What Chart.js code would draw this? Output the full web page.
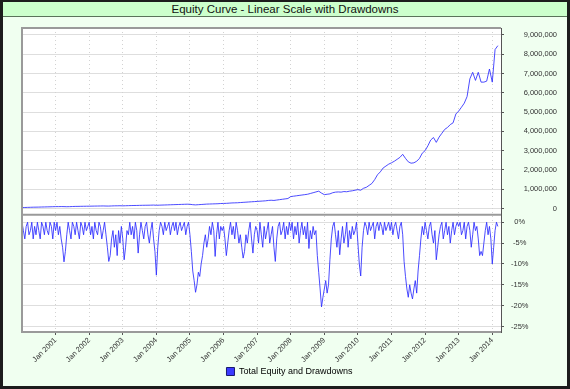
<!DOCTYPE html>
<html lang="en">
<head>
<meta charset="UTF-8">
<title>Equity Curve - Linear Scale with Drawdowns</title>
<script src="https://cdn.jsdelivr.net/npm/chart.js"></script>
<style>
  body { margin: 0; background: #f0fff0; }
  .frame {
    position: absolute; left: 0; top: 0; width: 570px; height: 389px;
    box-sizing: border-box; border: 3px solid #1c1c1c; border-top-width: 2px;
    background: #f0fff0;
  }
  .title {
    position: absolute; left: 3px; top: 2px; width: 564px; height: 14px;
    background: #ccffcc; border-bottom: 1px solid #5a735a;
    text-align: center; line-height: 14px; font-size: 11.5px; color: #111;
    font-family: "Liberation Sans", Arial, sans-serif;
  }
  #chart { position: absolute; left: 0; top: 0; }
</style>
</head>
<body>
<div class="frame"></div>
<div class="title">Equity Curve - Linear Scale with Drawdowns</div>
<canvas id="chart" width="570" height="389"></canvas>

<script>
// monthly equity, in millions, starting Jan 2000
const startYear = 2000;
const equity2000 = [0.05, 0.055, 0.06, 0.065, 0.07, 0.072, 0.075, 0.08, 0.083, 0.087, 0.09, 0.095];
const equity2001 = [0.10, 0.10, 0.102, 0.10, 0.095, 0.098, 0.105, 0.11, 0.112, 0.115, 0.118, 0.12];
const equity2002 = [0.122, 0.125, 0.127, 0.13, 0.132, 0.135, 0.13, 0.128, 0.135, 0.14, 0.142, 0.145];
const equity2003 = [0.14, 0.145, 0.15, 0.155, 0.158, 0.16, 0.165, 0.168, 0.17, 0.172, 0.175, 0.18];
const equity2004 = [0.17, 0.175, 0.18, 0.185, 0.19, 0.195, 0.2, 0.205, 0.21, 0.215, 0.22, 0.225];
const equity2005 = [0.22, 0.2, 0.19, 0.2, 0.21, 0.22, 0.23, 0.235, 0.24, 0.245, 0.25, 0.26];
const equity2006 = [0.265, 0.27, 0.28, 0.29, 0.295, 0.3, 0.31, 0.32, 0.33, 0.34, 0.35, 0.36];
const equity2007 = [0.37, 0.38, 0.39, 0.4, 0.42, 0.43, 0.42, 0.44, 0.46, 0.48, 0.5, 0.52];
const equity2008 = [0.62, 0.64, 0.66, 0.68, 0.7, 0.72, 0.74, 0.78, 0.82, 0.86, 0.9, 0.8];
const equity2009 = [0.72, 0.74, 0.76, 0.82, 0.85, 0.86, 0.85, 0.88, 0.87, 0.9, 0.92, 0.95];
const equity2010 = [0.98, 0.95, 1.05, 1.1, 1.2, 1.3, 1.5, 1.75, 1.9, 2.1, 2.2, 2.3];
const equity2011 = [2.37, 2.45, 2.55, 2.65, 2.81, 2.6, 2.42, 2.35, 2.37, 2.45, 2.6, 2.87];
const equity2012 = [3.0, 3.25, 3.55, 3.68, 3.43, 3.7, 3.9, 4.1, 4.2, 4.35, 4.44, 4.9];
const equity2013 = [5.05, 5.25, 5.46, 5.8, 6.72, 7.06, 6.64, 7.06, 6.55, 6.55, 6.6, 7.23];
const equity2014 = [6.55, 8.24, 8.44];

// drawdown in percent, twice a month, starting Jan 2000
const dd2000 = [0, -2, -4, -1, 0, -3, -2, 0, -4, -1, -3, 0, -2, -4, 0, -1, -3, 0, -2, -3, 0, -1, -4, 0];
const dd2001 = [-2, 0, -3, -1, -4, -6, -9.5, -7, -3, 0, -2, -4, 0, -1, -3, 0, -2, -4, 0, -1, -3, 0, -2, -1];
const dd2002 = [0, -3, -1, -4, 0, -2, -3, 0, -1, -4, -2, 0, -3, -6, -9.4, -8, -4, -2, -6, -3, -8, -2, -5, -1];
const dd2003 = [-4, -9, -6, -2, -3, 0, -3, -1, -4, 0, -2, -7.4, -3, 0, -2, -4, -1, 0, -3, -5, -2, 0, -4, -7];
const dd2004 = [-12.7, -6, -2, 0, -1, -3, 0, -2, -1, 0, -3, -1, 0, -2, 0, -3, -1, 0, -2, -1, 0, -3, -1, 0];
const dd2005 = [-3, -7, -11.7, -14, -16.8, -15, -12, -13, -10, -8, -5, -3, -6, -4, -1, -3, 0, -2, -8.2, -3, 0, -4, -1, -2];
const dd2006 = [-1, -4, -8, -5, -2, 0, -3, -1, -4, 0, -2, -5, -3, -6, -8.6, -7, -3, -5, -2, 0, -4, -7.4, -3, -1];
const dd2007 = [-2, -5, 0, -3, -6, -1, -4, -2, 0, -5, -3, -1, -6, -9.4, -4, -1, 0, -3, -2, 0, -4, -1, -3, 0];
const dd2008 = [-2, 0, -4, -1, -3, 0, -5, -2, 0, -3, -1, -4, 0, -6.3, -2, -4, -1, -3, -2, -8, -12, -16, -20.3, -18];
const dd2009 = [-16, -14, -17, -15, -9, -4, -1, 0, -3, -6, -2, -7.8, -4, -1, -5, -3, 0, -6, -2, -4, -1, -3, -2, 0];
const dd2010 = [-5, -10, -12.9, -6, -2, 0, -1, -3, 0, -2, -1, 0, -4, -1, 0, -2, 0, -1, -3, 0, -2, -1, 0, -2];
const dd2011 = [0, -3, -1, 0, -2, -4, -1, 0, -3, -9.4, -13, -16, -18, -15, -17, -18.4, -16, -14, -17, -11.7, -8, -4, -1, -3];
const dd2012 = [0, -2, -4, -1, 0, -3, -5, -2, -9, -6, -3, -1, 0, -4, -2, 0, -3, -1, -5, -2, 0, -3, -1, 0];
const dd2013 = [-1, 0, -3, -2, 0, -4, -1, 0, -2, -6, -3, 0, -2, -1, -4, -8, -7, -8, -5, -2, 0, -3, -1, -4];
const dd2014 = [-10, -6, -2, 0, -1];

const tickYears = [2001, 2002, 2003, 2004, 2005, 2006, 2007, 2008, 2009, 2010, 2011, 2012, 2013, 2014];
const tickLabels = tickYears.map(y => 'Jan ' + y);
const equityTicks = [0, 1000000, 2000000, 3000000, 4000000, 5000000, 6000000, 7000000, 8000000, 9000000];
const ddTicks = [0, -5, -10, -15, -20, -25];
const seriesName = 'Total Equity and Drawdowns';

const equity = [].concat(equity2000, equity2001, equity2002, equity2003, equity2004, equity2005,
  equity2006, equity2007, equity2008, equity2009, equity2010, equity2011, equity2012, equity2013, equity2014);
const drawdown = [].concat(dd2000, dd2001, dd2002, dd2003, dd2004, dd2005, dd2006, dd2007,
  dd2008, dd2009, dd2010, dd2011, dd2012, dd2013, dd2014);

const equityPoints = equity.map((v, i) => ({ x: startYear + i / 12, y: v * 1e6 }));
const ddPoints = drawdown.map((v, i) => ({ x: startYear + i / 24, y: v }));

Chart.defaults.font.family = '"Liberation Sans", Arial, sans-serif';
Chart.defaults.color = '#333';

// white plot area plus the grey frame and the divider between the two panels
const plotFrame = {
  id: 'plotFrame',
  beforeDraw(chart) {
    const { ctx, chartArea: a } = chart;
    ctx.save();
    ctx.fillStyle = '#ffffff';
    ctx.fillRect(a.left, a.top, a.right - a.left, a.bottom - a.top);
    ctx.restore();
  },
  afterDraw(chart) {
    const { ctx, chartArea: a } = chart;
    const split = chart.scales.yEq.bottom;
    ctx.save();
    ctx.strokeStyle = '#9a9a9a';
    ctx.lineWidth = 2;
    ctx.beginPath();
    ctx.moveTo(a.right, a.top); ctx.lineTo(a.left, a.top);
    ctx.lineTo(a.left, a.bottom); ctx.lineTo(a.right, a.bottom);
    ctx.moveTo(a.left, split); ctx.lineTo(a.right, split);
    ctx.stroke();
    ctx.restore();
  }
};

const lineColor = 'rgba(45, 45, 255, 0.85)';

new Chart(document.getElementById('chart'), {
  type: 'line',
  data: {
    datasets: [{
      label: seriesName,
      data: equityPoints,
      xAxisID: 'x',
      yAxisID: 'yEq',
      borderColor: lineColor,
      backgroundColor: '#3a3aff',
      borderWidth: 1,
      pointRadius: 0,
      tension: 0
    }, {
      label: seriesName,
      data: ddPoints,
      xAxisID: 'x',
      yAxisID: 'yDd',
      borderColor: lineColor,
      backgroundColor: '#3a3aff',
      borderWidth: 1,
      pointRadius: 0,
      tension: 0
    }]
  },
  options: {
    responsive: false,
    animation: false,
    events: [],
    layout: { padding: { left: 22, top: 28, right: 13, bottom: 3 } },
    scales: {
      yEq: {
        type: 'linear',
        position: 'right',
        stack: 'panels',
        stackWeight: 191,
        min: -319000,
        max: 9355000,
        afterBuildTicks: s => { s.ticks = equityTicks.map(v => ({ value: v })); },
        grid: { color: '#dedede', tickColor: '#555', tickLength: 3 },
        border: { display: true, color: '#555', width: 1 },
        ticks: {
          crossAlign: 'far',
          padding: 4,
          font: { size: 7.5 },
          color: '#333',
          callback: v => v.toLocaleString('en-US')
        },
        afterFit: s => { s.width = 56; }
      },
      yDd: {
        type: 'linear',
        position: 'right',
        stack: 'panels',
        stackWeight: 120,
        min: -26.33,
        max: 1.81,
        afterBuildTicks: s => { s.ticks = ddTicks.map(v => ({ value: v })); },
        grid: { color: '#dedede', tickColor: '#555', tickLength: 3 },
        border: { display: true, color: '#555', width: 1 },
        ticks: {
          crossAlign: 'center',
          padding: 7,
          font: { size: 7.5 },
          color: '#333',
          callback: v => v + '%'
        },
        afterFit: s => { s.width = 56; }
      },
      x: {
        type: 'linear',
        position: 'bottom',
        min: 2000,
        max: 2014.26,
        afterBuildTicks: s => { s.ticks = tickYears.map(y => ({ value: y })); },
        grid: { color: '#d2d2d2', tickColor: '#555', tickLength: 3 },
        border: { display: false, dash: [1, 3] },
        ticks: {
          autoSkip: false,
          minRotation: 45,
          maxRotation: 45,
          padding: 1,
          font: { size: 7.5 },
          color: '#333',
          callback: v => tickLabels[tickYears.indexOf(v)]
        },
        afterFit: s => { s.height = 31; }
      }
    },
    plugins: {
      title: { display: false },
      tooltip: { enabled: false },
      legend: {
        position: 'bottom',
        labels: {
          boxWidth: 8,
          boxHeight: 8,
          padding: 4,
          color: '#111',
          font: { size: 9 },
          generateLabels: () => [{
            text: seriesName,
            fillStyle: '#3a3aff',
            strokeStyle: '#1a1a70',
            lineWidth: 1,
            datasetIndex: 0
          }]
        }
      }
    }
  },
  plugins: [plotFrame]
});
</script>
</body>
</html>
